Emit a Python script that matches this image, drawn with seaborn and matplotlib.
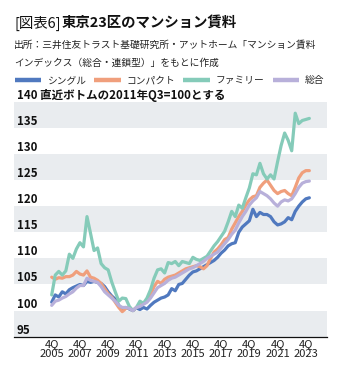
import numpy as np
import pandas as pd
import matplotlib
matplotlib.use("Agg")
import matplotlib.pyplot as plt
import seaborn as sns

# ---------------- data (quarterly, 4Q2005 .. 1Q2024; 3Q2011 = 100) ----------------
series_names = ["シングル", "コンパクト", "ファミリー", "総合"]
start_year = 2005.75  # 4Q 2005

single = [101.6, 103.0, 102.6, 103.6, 103.2, 104.0, 104.4, 104.7, 105.0, 104.8,
          105.6, 105.4, 105.6, 105.4, 105.2, 104.6, 103.6, 102.8, 102.2, 101.0,
          100.1, 100.6, 100.3, 100.0, 100.5, 100.2, 100.6, 100.3, 101.0, 101.6,
          102.0, 102.4, 102.6, 103.0, 104.2, 103.8, 105.0, 105.2, 106.0, 106.8,
          107.4, 107.6, 108.0, 108.4, 108.8, 109.2, 109.6, 110.2, 111.0, 111.6,
          112.4, 112.8, 113.0, 115.0, 116.0, 116.6, 117.2, 119.4, 118.0, 118.8,
          118.4, 118.4, 118.0, 117.0, 116.4, 116.6, 117.0, 117.8, 117.4, 119.0,
          120.0, 120.8, 121.4, 121.6]

compact = [106.4, 106.0, 106.3, 106.2, 106.5, 106.5, 106.8, 107.5, 107.0, 106.8,
           107.6, 106.4, 106.2, 105.8, 105.2, 104.2, 103.2, 102.6, 101.6, 100.6,
           99.8, 100.4, 100.6, 100.0, 100.6, 101.0, 101.4, 102.0, 103.0, 104.6,
           105.6, 105.2, 106.0, 106.4, 106.6, 106.8, 107.2, 107.6, 108.0, 108.2,
           108.4, 108.6, 108.4, 108.0, 108.6, 110.0, 111.2, 111.8, 112.6, 113.6,
           114.0, 115.6, 116.8, 118.0, 119.0, 120.2, 121.2, 121.8, 122.0, 123.6,
           124.4, 125.0, 124.0, 123.0, 122.4, 122.8, 123.0, 122.4, 122.0, 123.6,
           125.4, 126.4, 126.8, 126.8]

family = [103.0, 106.8, 107.5, 106.8, 107.6, 110.8, 110.0, 111.8, 113.0, 112.2,
          118.0, 114.8, 111.5, 112.0, 109.0, 108.2, 107.8, 105.5, 103.6, 101.8,
          102.4, 102.3, 100.8, 100.0, 100.6, 101.8, 101.4, 102.4, 104.0, 106.2,
          107.8, 108.0, 107.2, 109.2, 109.0, 109.4, 108.6, 109.4, 109.2, 109.0,
          110.2, 109.8, 109.6, 110.0, 110.4, 111.4, 112.4, 113.2, 114.2, 115.2,
          117.0, 119.0, 118.0, 120.2, 119.6, 121.6, 123.5, 126.2, 126.0, 128.2,
          126.2, 125.2, 126.0, 125.2, 128.5, 131.6, 134.0, 132.6, 130.6, 137.8,
          135.8, 136.4, 136.6, 136.8]

total = [101.0, 101.8, 102.0, 102.4, 102.7, 103.2, 103.6, 104.3, 104.8, 104.8,
         106.2, 105.8, 105.6, 105.4, 104.6, 103.6, 103.0, 102.4, 101.8, 101.0,
         100.6, 100.6, 100.4, 100.0, 100.6, 100.8, 101.2, 101.6, 102.4, 103.4,
         104.4, 104.8, 105.2, 105.8, 106.2, 106.4, 106.8, 107.2, 107.6, 108.0,
         108.2, 108.6, 109.0, 109.4, 110.0, 110.4, 110.8, 111.2, 112.0, 112.8,
         113.6, 114.6, 115.4, 116.8, 118.0, 119.0, 120.2, 121.0, 121.6, 122.8,
         122.4, 122.0, 121.4, 120.6, 120.0, 120.8, 121.2, 121.0, 121.4, 122.4,
         123.6, 124.4, 124.7, 124.8]

tick_years = [2005, 2007, 2009, 2011, 2013, 2015, 2017, 2019, 2021, 2023]
tick_labels = [f"4Q\n{y}" for y in tick_years]
y_ticks = [95, 100, 105, 110, 115, 120, 125, 130, 135, 140]
y_labels = [str(v) for v in y_ticks[:-1]] + ["140 直近ボトムの2011年Q3=100とする"]

colors = ["#5079bf", "#f09f7c", "#85cbb9", "#b8b0da"]

# ---------------- build long table ----------------
rows = []
for name, vals in zip(series_names, [single, compact, family, total]):
    for i, v in enumerate(vals):
        rows.append({"t": start_year + 0.25 * i, "value": v, "series": name})
df = pd.DataFrame(rows)

# ---------------- figure ----------------
sns.set_style("white")
plt.rcParams["font.family"] = ["Noto Sans CJK JP", "DejaVu Sans"]

W, H = 341, 382
fig = plt.figure(figsize=(W / 100, H / 100), dpi=100)
ax_l, ax_r, ax_t, ax_b = 14, 327, 101.7, 336.7
ax = fig.add_axes([ax_l / W, (H - ax_b) / H, (ax_r - ax_l) / W, (ax_b - ax_t) / H])

for lo in range(95, 140, 10):
    ax.axhspan(lo, lo + 5, color="#e9ecef", lw=0, zorder=0)

sns.lineplot(data=df, x="t", y="value", hue="series", hue_order=series_names,
             palette=colors, linewidth=2.3, errorbar=None, ax=ax)

ax.set_xlim(2003.08, 2025.25)
ax.set_ylim(95, 140)
ax.set_xlabel("")
ax.set_ylabel("")

ax.set_xticks([y + 0.75 for y in tick_years])
ax.set_xticklabels(tick_labels, fontsize=8, color="#222222", linespacing=0.95)
ax.tick_params(axis="x", length=0, pad=2)

ax.set_yticks(y_ticks)
ax.set_yticklabels(y_labels, fontsize=8.3, fontweight="bold", color="#111111")
ax.tick_params(axis="y", length=0, pad=-2)
for lab in ax.get_yticklabels():
    lab.set_horizontalalignment("left")
    lab.set_verticalalignment("bottom")

for s in ["top", "right", "left"]:
    ax.spines[s].set_visible(False)
ax.spines["bottom"].set_color("#111111")
ax.spines["bottom"].set_linewidth(0.9)

# legend
handles, labels = ax.get_legend_handles_labels()
if ax.get_legend() is not None:
    ax.get_legend().remove()
leg = fig.legend(handles, labels, loc="center left",
                 bbox_to_anchor=(15 / W, 1 - 80 / H), bbox_transform=fig.transFigure,
                 ncol=4, frameon=False, fontsize=7, handlelength=2.7,
                 handletextpad=0.65, columnspacing=0.8, borderpad=0, borderaxespad=0)
for ln in leg.get_lines():
    ln.set_linewidth(3.2)
    ln.set_solid_capstyle("butt")

# titles
t1 = fig.text(14 / W, 1 - 23 / H, "[図表6]", fontsize=10.4, va="center", ha="left",
              color="#111111")
fig.canvas.draw()
bb = t1.get_window_extent(fig.canvas.get_renderer())
fig.text(bb.x1 / W + 1.5 / W, 1 - 23 / H, "東京23区のマンション賃料", fontsize=10.4,
         fontweight="bold", va="center", ha="left", color="#111111")
fig.text(14 / W, 1 - 45 / H, "出所：三井住友トラスト基礎研究所・アットホーム「マンション賃料",
         fontsize=7, va="center", ha="left", color="#222222")
fig.text(14 / W, 1 - 63 / H, "インデックス（総合・連鎖型）」をもとに作成",
         fontsize=7, va="center", ha="left", color="#222222")

fig.savefig("out.png", dpi=100)
